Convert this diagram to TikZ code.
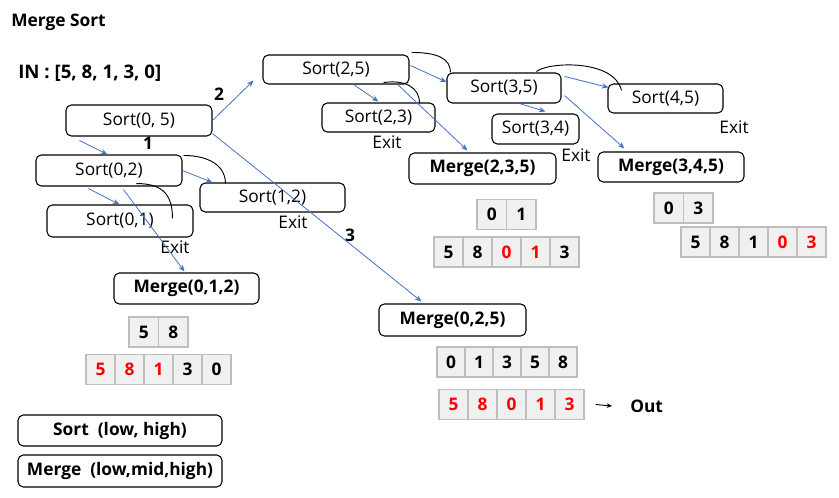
\documentclass[tikz,border=0pt]{standalone}
\usepackage{fontspec}
\setmainfont{Open Sans}
\usetikzlibrary{arrows.meta,calc}
\definecolor{arrblue}{RGB}{68,114,196}
\definecolor{myred}{RGB}{255,0,0}
\definecolor{cellfill}{RGB}{240,240,240}
\definecolor{cellline}{RGB}{190,190,190}
\newcommand\rd[1]{\textcolor{myred}{#1}}
\newcommand\cellrow[5]{%
  \foreach \v [count=\i] in {#5}{\node[cell, minimum width=#4*0.75pt] (#1-\i) at ({#2+#4*\i-#4/2},#3) {\v};}}
\begin{document}
\begin{tikzpicture}[x=0.75pt,y=-0.75pt, font=\fontsize{13}{15}\selectfont,
  sbox/.style={draw, rounded corners=4pt, line width=0.8pt, fill=white, inner sep=0pt},
  sz/.style 2 args={minimum width=#1*0.75pt, minimum height=#2*0.75pt},
  mbox/.style={sbox, font=\fontsize{13}{15}\selectfont\bfseries},
  cell/.style={draw=cellline, fill=cellfill, line width=0.9pt, minimum height=30*0.75pt, inner sep=0pt, font=\fontsize{13}{15}\selectfont\bfseries},
  link/.style={draw=arrblue, line width=0.6pt, -{Stealth[length=5pt,width=4pt]}},
  arcl/.style={draw=black, line width=0.7pt},
  lbl/.style={font=\fontsize{13}{15}\selectfont\bfseries, inner sep=0pt},
  exitl/.style={inner sep=0pt}
]
\useasboundingbox (0,0) rectangle (839,497);

\node[lbl, anchor=west] (title) at (11,22) {Merge Sort};
\node[lbl, anchor=west, font=\fontsize{14}{16}\selectfont\bfseries] (in) at (18,73) {IN : [5, 8, 1, 3, 0]};

\node[sbox, sz={146}{31}] (s05) at (139,120.5) {Sort(0, 5)};
\node[sbox, sz={146}{31}] (s02) at (109,170.5) {Sort(0,2)};
\node[sbox, sz={146}{32}] (s01) at (120,221) {Sort(0,1)};
\node[sbox, sz={145}{29}] (s12) at (272.5,197.5) {Sort(1,2)};
\node[mbox, sz={145}{31}] (m012) at (186.5,288.5) {Merge(0,1,2)};
\node[sbox, sz={146}{29}] (s25) at (336,69.5) {Sort(2,5)};
\node[sbox, sz={113}{29}] (s23) at (378.5,117.5) {Sort(2,3)};
\node[mbox, sz={147}{31}] (m235) at (482.5,168.5) {Merge(2,3,5)};
\node[sbox, sz={114}{30}] (s35) at (504,88) {Sort(3,5)};
\node[sbox, sz={115}{29}] (s45) at (665.5,98.5) {Sort(4,5)};
\node[sbox, sz={87}{30}] (s34) at (535.5,129) {Sort(3,4)};
\node[mbox, sz={146}{30}] (m345) at (671,167) {Merge(3,4,5)};
\node[mbox, sz={147}{32}] (m025) at (452.5,320) {Merge(0,2,5)};
\node[mbox, sz={204}{31}] (lsort) at (120,430.5) {Sort\ \ (low, high)};
\node[mbox, sz={204}{32}] (lmerge) at (120,471) {Merge\ \ (low,mid,high)};

\node[exitl] (e01) at (175,247) {Exit};
\node[exitl] (e12) at (293,222) {Exit};
\node[exitl] (e23) at (387,142) {Exit};
\node[exitl] (e34) at (576,155) {Exit};
\node[exitl] (e45) at (734,127) {Exit};

\node[lbl] (n1) at (148,143) {1};
\node[lbl] (n2) at (219,94) {2};
\node[lbl] (n3) at (350,235) {3};

\cellrow{ra}{129}{332}{29.5}{5,8}
\cellrow{rb}{86}{369.5}{29}{\rd{5},\rd{8},\rd{1},3,0}
\cellrow{rc}{477}{214.5}{29.5}{0,1}
\cellrow{rd}{434}{252}{29}{5,8,\rd{0},\rd{1},3}
\cellrow{re}{654}{208}{29.5}{0,3}
\cellrow{rf}{681}{242}{29}{5,8,1,\rd{0},\rd{3}}
\cellrow{rg}{437}{362}{28}{0,1,3,5,8}
\cellrow{rh}{439}{404.5}{29}{\rd{5},\rd{8},\rd{0},\rd{1},\rd{3}}

\node[lbl, anchor=west] (out) at (630,406) {Out};
\draw[-{Stealth[length=4pt,width=3.5pt]}, line width=0.7pt] ($(rh-5.east)+(11,0)$) -- ($(out.west)+(-18,0)$);

\draw[link] (s05.east) -- ($(s25.south west)+(-9,-4)$);
\draw[link] ($(s05.south east)+(0,-3)$) -- ($(m025.north west)+(43,-2)$);
\draw[link] ($(s05.south west)+(14,4)$) -- ($(s02.north west)+(72,0)$);
\draw[link] (s02.east) -- ($(s12.north west)+(13,0)$);
\draw[link] ($(s02.south west)+(53,2)$) -- ($(s01.north west)+(73,0)$);
\draw[link] ($(s02.south west)+(88,3)$) -- ($(m012.north west)+(71,-1)$);
\draw[link] ($(s25.east)+(1,-4)$) -- ($(s35.west)+(0,-6)$);
\draw[link] ($(s25.south west)+(91,0)$) -- ($(s23.north west)+(57,-1)$);
\draw[link] ($(s25.south east)+(-14,-2)$) -- ($(m235.north west)+(59,-2)$);
\draw[link] ($(s35.north east)+(3,4)$) -- ($(s45.north west)+(1,4)$);
\draw[link] ($(s35.south west)+(73,0)$) -- ($(s34.north west)+(54,-2)$);
\draw[link] ($(s35.south east)+(3,-8)$) -- ($(m345.north west)+(27,-3)$);

\draw[arcl] ($(s02.north east)+(1,1)$) .. controls +(25,0) and +(0,-18) .. ($(s12.north west)+(26,1)$);
\draw[arcl] ($(s02.south west)+(101,-3)$) .. controls +(28,0) and +(0,-22) .. ($(s01.north west)+(126,14)$);
\draw[arcl] ($(s25.north east)+(2,-2)$) .. controls +(26,0) and +(0,-14) .. ($(s35.north west)+(4,0)$);
\draw[arcl] ($(s25.south east)+(-26,-2)$) .. controls +(22,-3) and +(0,-16) .. ($(s23.north east)+(-16,1)$);
\draw[arcl] ($(s35.north west)+(90,-1)$) .. controls +(13,-10) and +(-7,-31) .. ($(s45.north west)+(14,7)$);
\end{tikzpicture}
\end{document}
